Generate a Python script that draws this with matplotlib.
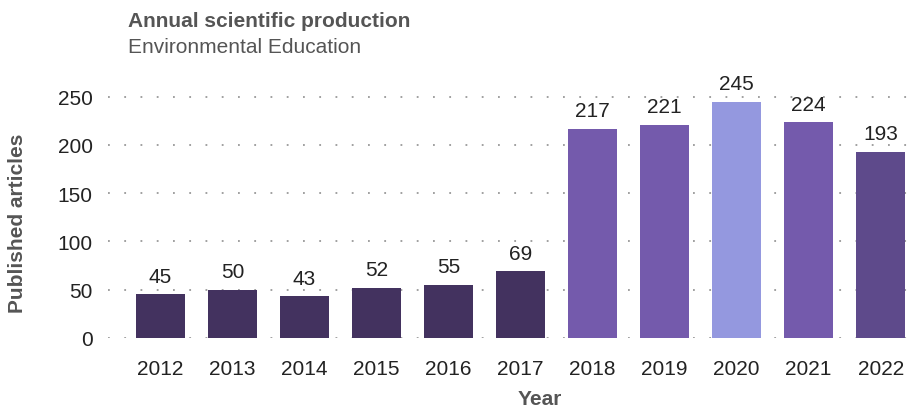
import matplotlib.pyplot as plt

plt.rcParams['font.family'] = ['Liberation Sans', 'DejaVu Sans']

years = ['2012', '2013', '2014', '2015', '2016', '2017',
         '2018', '2019', '2020', '2021', '2022']
articles = [45, 50, 43, 52, 55, 69, 217, 221, 245, 224, 193]
colors = ['#43325f'] * 6 + ['#745aac', '#745aac', '#9498df', '#745aac', '#5e4a8b']
yticks = [0, 50, 100, 150, 200, 250]

W, H = 908, 410
fig = plt.figure(figsize=(W / 100, H / 100), dpi=100)
ax = fig.add_axes([108 / W, 1 - 338.7 / H, 800 / W, 0.611])

x = range(len(years))
bars = ax.bar(x, articles, width=0.68, color=colors, zorder=2)
for xi, v in zip(x, articles):
    ax.annotate(str(v), (xi, v), xytext=(0, 6), textcoords='offset points',
                ha='center', va='bottom', fontsize=15, color='#222222')

ax.set_xlim(-0.73, 10.38)
ax.set_ylim(0, 260)
ax.set_xticks(list(x))
ax.set_xticklabels(years)
ax.set_yticks(yticks)
ax.tick_params(axis='both', length=0, labelsize=15, labelcolor='#222222')
ax.tick_params(axis='y', pad=11)
ax.tick_params(axis='x', pad=15)

ax.grid(axis='y', color='#999999', linestyle=(0, (1, 8)), linewidth=1.3)
ax.set_axisbelow(True)
for s in ax.spines.values():
    s.set_visible(False)

fig.text(18 / W, 1 - 223 / H, 'Published articles', rotation=90, ha='center', va='center',
         fontsize=15, fontweight='bold', color='#555555')
fig.text(540 / W, 1 - 400 / H, 'Year', ha='center', va='center',
         fontsize=15, fontweight='bold', color='#555555')
fig.text(128 / W, 1 - 27 / H, 'Annual scientific production', ha='left', va='baseline',
         fontsize=15, fontweight='bold', color='#555555')
fig.text(128 / W, 1 - 53 / H, 'Environmental Education', ha='left', va='baseline',
         fontsize=15, color='#555555')

fig.savefig('out.png', dpi=100)
